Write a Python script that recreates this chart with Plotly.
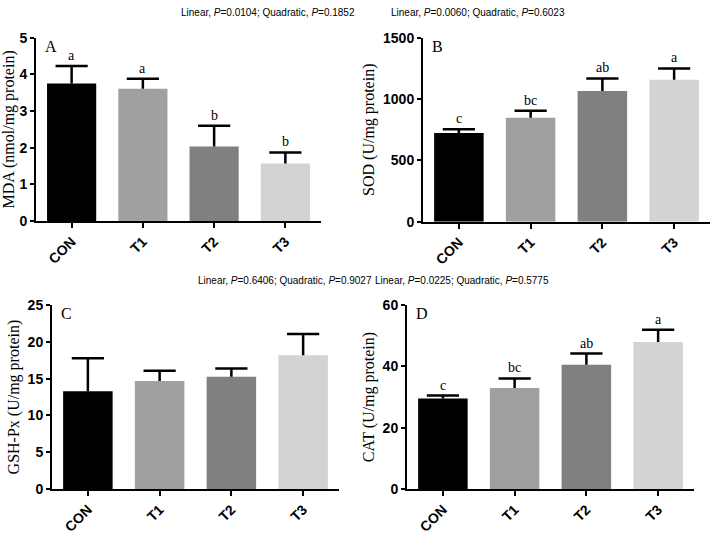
import plotly.graph_objects as go

groups = ["CON", "T1", "T2", "T3"]
bar_colors = ["#000000", "#a0a0a0", "#808080", "#d3d3d3"]

# panel A - MDA
mda_mean = [3.75, 3.61, 2.03, 1.57]
mda_sd = [0.48, 0.27, 0.57, 0.30]
mda_letters = ["a", "a", "b", "b"]

# panel B - SOD
sod_mean = [724, 848, 1066, 1158]
sod_sd = [30, 57, 102, 92]
sod_letters = ["c", "bc", "ab", "a"]

# panel C - GSH-Px
gsh_mean = [13.3, 14.7, 15.25, 18.2]
gsh_sd = [4.5, 1.4, 1.15, 2.9]
gsh_letters = ["", "", "", ""]

# panel D - CAT
cat_mean = [29.5, 33.0, 40.6, 48.0]
cat_sd = [1.0, 3.1, 3.6, 4.0]
cat_letters = ["c", "bc", "ab", "a"]

panels = [
    dict(tag="A", mean=mda_mean, sd=mda_sd, let=mda_letters, ytitle="MDA (nmol/mg protein)",
         yr=[0, 5], dt=1, p="Linear, <i>P</i>=0.0104; Quadratic, <i>P</i>=0.1852",
         xd=[36/711, 321/711], yd=[(535-220)/535, (535-30.7)/535]),
    dict(tag="B", mean=sod_mean, sd=sod_sd, let=sod_letters, ytitle="SOD (U/mg protein)",
         yr=[0, 1500], dt=500, p="Linear, <i>P</i>=0.0060; Quadratic, <i>P</i>=0.6023",
         xd=[423/711, 710/711], yd=[(535-220.7)/535, (535-30.7)/535]),
    dict(tag="C", mean=gsh_mean, sd=gsh_sd, let=gsh_letters, ytitle="GSH-Px (U/mg protein)",
         yr=[0, 25], dt=5, p="Linear, <i>P</i>=0.6406; Quadratic, <i>P</i>=0.9027",
         xd=[52/711, 339/711], yd=[(535-496.7)/535, (535-307)/535]),
    dict(tag="D", mean=cat_mean, sd=cat_sd, let=cat_letters, ytitle="CAT (U/mg protein)",
         yr=[0, 60], dt=20, p="Linear, <i>P</i>=0.0225; Quadratic, <i>P</i>=0.5775",
         xd=[407/711, 694/711], yd=[(535-496.7)/535, (535-307)/535]),
]

fig = go.Figure()
annotations = []
serif = "Liberation Serif"
sans = "Liberation Sans"

for i, pn in enumerate(panels):
    n = "" if i == 0 else str(i + 1)
    xa, ya = "x" + n, "y" + n
    tops = [m + s for m, s in zip(pn["mean"], pn["sd"])]
    fig.add_trace(go.Bar(
        x=groups, y=pn["mean"], xaxis=xa, yaxis=ya,
        marker=dict(color=bar_colors, line=dict(width=0)),
        error_y=dict(type="data", symmetric=False, array=pn["sd"],
                     arrayminus=[0] * 4, color="black", thickness=2.5, width=0),
        showlegend=False, hoverinfo="skip",
    ))
    # error bar caps
    fig.add_trace(go.Scatter(
        x=groups, y=tops, xaxis=xa, yaxis=ya, mode="markers",
        marker=dict(symbol="line-ew", size=23, line=dict(color="black", width=2.5)),
        showlegend=False, hoverinfo="skip", cliponaxis=False,
    ))
    fig.update_layout(**{
        "xaxis" + n: dict(domain=pn["xd"], anchor=ya, showline=True, linecolor="black",
                          linewidth=2, ticks="outside", ticklen=5, tickwidth=2,
                          tickcolor="black", tickangle=-45, showgrid=False,
                          tickfont=dict(family=sans, size=14, color="black", weight="bold")),
        "yaxis" + n: dict(domain=pn["yd"], anchor=xa, range=pn["yr"], dtick=pn["dt"],
                          showline=True, linecolor="black", linewidth=2, ticks="outside",
                          ticklen=4, tickwidth=2, tickcolor="black", showgrid=False,
                          zeroline=False,
                          tickfont=dict(family=sans, size=14, color="black", weight="bold"),
                          title=dict(text=pn["ytitle"], standoff=4,
                                     font=dict(family=serif, size=16, color="black"))),
    })
    for g, t, l in zip(groups, tops, pn["let"]):
        if l:
            annotations.append(dict(x=g, y=t, xref=xa, yref=ya, text=l, showarrow=False,
                                    yanchor="bottom", yshift=1,
                                    font=dict(family=serif, size=14, color="black")))
    annotations.append(dict(x=pn["xd"][0], y=pn["yd"][1], xref="paper", yref="paper",
                            text=pn["tag"], showarrow=False, xanchor="left", yanchor="top",
                            xshift=7, yshift=2,
                            font=dict(family=serif, size=16, color="black")))
    annotations.append(dict(x=(pn["xd"][0] + pn["xd"][1]) / 2, y=pn["yd"][1], xref="paper",
                            yref="paper", text=pn["p"], showarrow=False, yanchor="middle",
                            yshift=25, font=dict(family=sans, size=10, color="black")))

fig.update_layout(
    width=711, height=535,
    margin=dict(l=0, r=0, t=0, b=0),
    paper_bgcolor="white", plot_bgcolor="white",
    bargap=0.31,
    annotations=annotations,
)

fig.write_html("out.html", config={"displayModeBar": False},
               post_script="document.body.style.margin='0px';")
